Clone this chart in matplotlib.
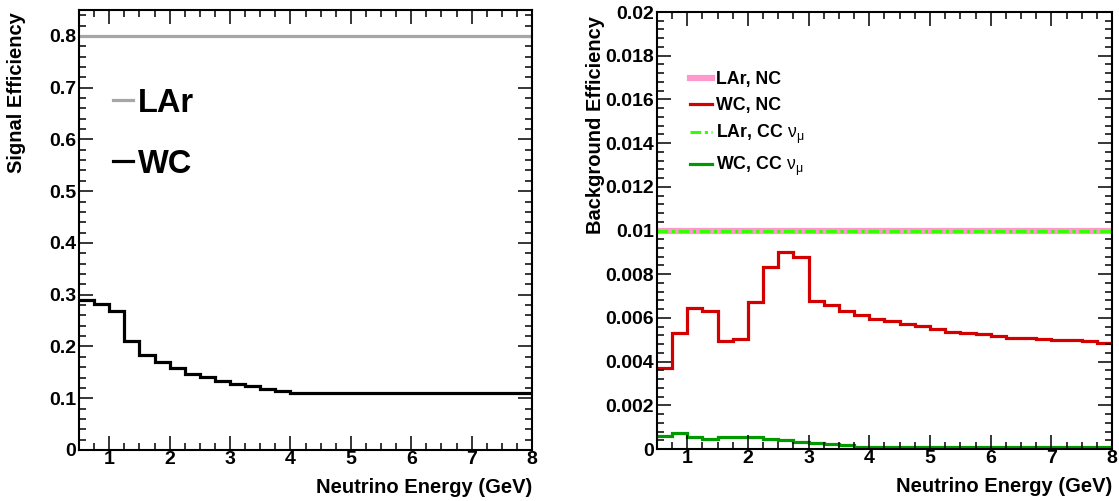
import matplotlib
matplotlib.use("Agg")
import matplotlib.pyplot as plt
from matplotlib.ticker import MultipleLocator, FuncFormatter
from matplotlib.lines import Line2D
import numpy as np

plt.rcParams['font.family'] = ['Liberation Sans', 'DejaVu Sans']
plt.rcParams['font.weight'] = 'bold'
plt.rcParams['mathtext.fontset'] = 'custom'
plt.rcParams['mathtext.rm'] = 'Liberation Sans:normal'
plt.rcParams['mathtext.it'] = 'Liberation Sans:normal'

# ---------------- data ----------------
bin_edges = np.arange(0.5, 8.0001, 0.25)  # 30 bins of 0.25 GeV

lar_signal = 0.8
wc_signal = [0.289, 0.283, 0.269, 0.210, 0.183, 0.170, 0.158, 0.147, 0.141, 0.134,
             0.127, 0.123, 0.118, 0.114, 0.111, 0.111, 0.111, 0.111, 0.111, 0.111,
             0.111, 0.111, 0.111, 0.111, 0.111, 0.111, 0.111, 0.111, 0.111, 0.111]

lar_nc = 0.01
lar_ccnumu = 0.01
wc_nc = [0.00372, 0.00533, 0.00644, 0.00633, 0.00493, 0.00503, 0.00673, 0.00835, 0.00901, 0.00878,
         0.00679, 0.00659, 0.00631, 0.00611, 0.00595, 0.00584, 0.00572, 0.00561, 0.00550, 0.00535,
         0.00529, 0.00526, 0.00518, 0.00510, 0.00509, 0.00503, 0.00501, 0.00500, 0.00493, 0.00486]
wc_ccnumu = [0.00061, 0.00072, 0.00056, 0.00047, 0.00054, 0.00054, 0.00054, 0.00048, 0.00040, 0.00032,
             0.00026, 0.00022, 0.00017, 0.00010, 0.00007, 0.00007, 0.00007, 0.00007, 0.00007, 0.00007,
             0.00007, 0.00007, 0.00007, 0.00007, 0.00007, 0.00007, 0.00007, 0.00007, 0.00007, 0.00007]

xlabel = "Neutrino Energy (GeV)"

# ---------------- figure ----------------
W, H = 1119, 501
fig = plt.figure(figsize=(W / 100, H / 100), dpi=100)
ax1 = fig.add_axes([79 / W, 51 / H, 453 / W, 440 / H])
ax2 = fig.add_axes([657 / W, 52 / H, 455 / W, 437 / H])

fmt = FuncFormatter(lambda v, p: ('%g' % round(v, 6)))

for ax in (ax1, ax2):
    ax.set_xlim(0.5, 8)
    ax.xaxis.set_major_locator(MultipleLocator(1))
    ax.xaxis.set_minor_locator(MultipleLocator(0.25))
    ax.tick_params(which='both', direction='in', top=True, right=True, width=1.1)
    ax.tick_params(which='major', length=10, labelsize=14)
    ax.tick_params(which='minor', length=5)
    ax.tick_params(axis='x', which='major', pad=0.5)
    ax.tick_params(axis='y', which='major', pad=2)
    for s in ax.spines.values():
        s.set_linewidth(1.5)
    ax.yaxis.set_major_formatter(fmt)
    for lab in ax.get_xticklabels() + ax.get_yticklabels():
        lab.set_fontweight('bold')
    ax.set_xlabel(xlabel, fontsize=14.5, fontweight='bold', loc='right')
    ax.xaxis.set_label_coords(1.0, -0.064)

# ---- left panel ----
ax1.set_ylim(0, 0.85)
ax1.yaxis.set_major_locator(MultipleLocator(0.1))
ax1.yaxis.set_minor_locator(MultipleLocator(0.02))
ax1.axhline(lar_signal, color='#a6a6a6', lw=2.3, label='LAr')
ax1.stairs(wc_signal, bin_edges, color='black', lw=2.3, label='WC', baseline=None)
ax1.set_ylabel("Signal Efficiency", fontsize=14.5, fontweight='bold', loc='top')
ax1.yaxis.set_label_coords(-0.117, 0.995)
h1 = [Line2D([], [], color='#a6a6a6', lw=2.3), Line2D([], [], color='black', lw=2.3)]
ax1.legend(h1, ['LAr', 'WC'], loc='upper left', bbox_to_anchor=(0.075, 0.823),
           frameon=False, prop={'size': 23.5, 'weight': 'bold'},
           handlelength=0.62, handletextpad=0.15, labelspacing=0.92, borderpad=0,
           borderaxespad=0)

# ---- right panel ----
ax2.set_ylim(0, 0.02)
ax2.yaxis.set_major_locator(MultipleLocator(0.002))
ax2.yaxis.set_minor_locator(MultipleLocator(0.0004))
ax2.axhline(lar_nc, color='#ff99cc', lw=4.5)
ax2.stairs(wc_nc, bin_edges, color='#d40000', lw=2.3, baseline=None)
ax2.axhline(lar_ccnumu, color='#33ff00', lw=2.2, linestyle=(0, (3.5, 1.2, 1, 1.2)))
ax2.stairs(wc_ccnumu, bin_edges, color='#009900', lw=2.3, baseline=None)
ax2.set_ylabel("Background Efficiency", fontsize=14.5, fontweight='bold', loc='top')
ax2.yaxis.set_label_coords(-0.114, 0.99)
h2 = [Line2D([], [], color='#ff99cc', lw=4.5),
      Line2D([], [], color='#d40000', lw=2.3),
      Line2D([], [], color='#33ff00', lw=2.2, linestyle=(0, (3.5, 1.2, 1, 1.2))),
      Line2D([], [], color='#009900', lw=2.3)]
labels2 = ['LAr, NC', 'WC, NC', r'LAr, CC $\mathrm{\nu_{\mu}}$', r'WC, CC $\mathrm{\nu_{\mu}}$']
ax2.legend(h2, labels2, loc='upper left', bbox_to_anchor=(0.072, 0.865),
           frameon=False, prop={'size': 12.8, 'weight': 'bold'},
           handlelength=1.25, handletextpad=0.2, labelspacing=0.5, borderpad=0,
           borderaxespad=0)

fig.savefig("out.png", dpi=100)
